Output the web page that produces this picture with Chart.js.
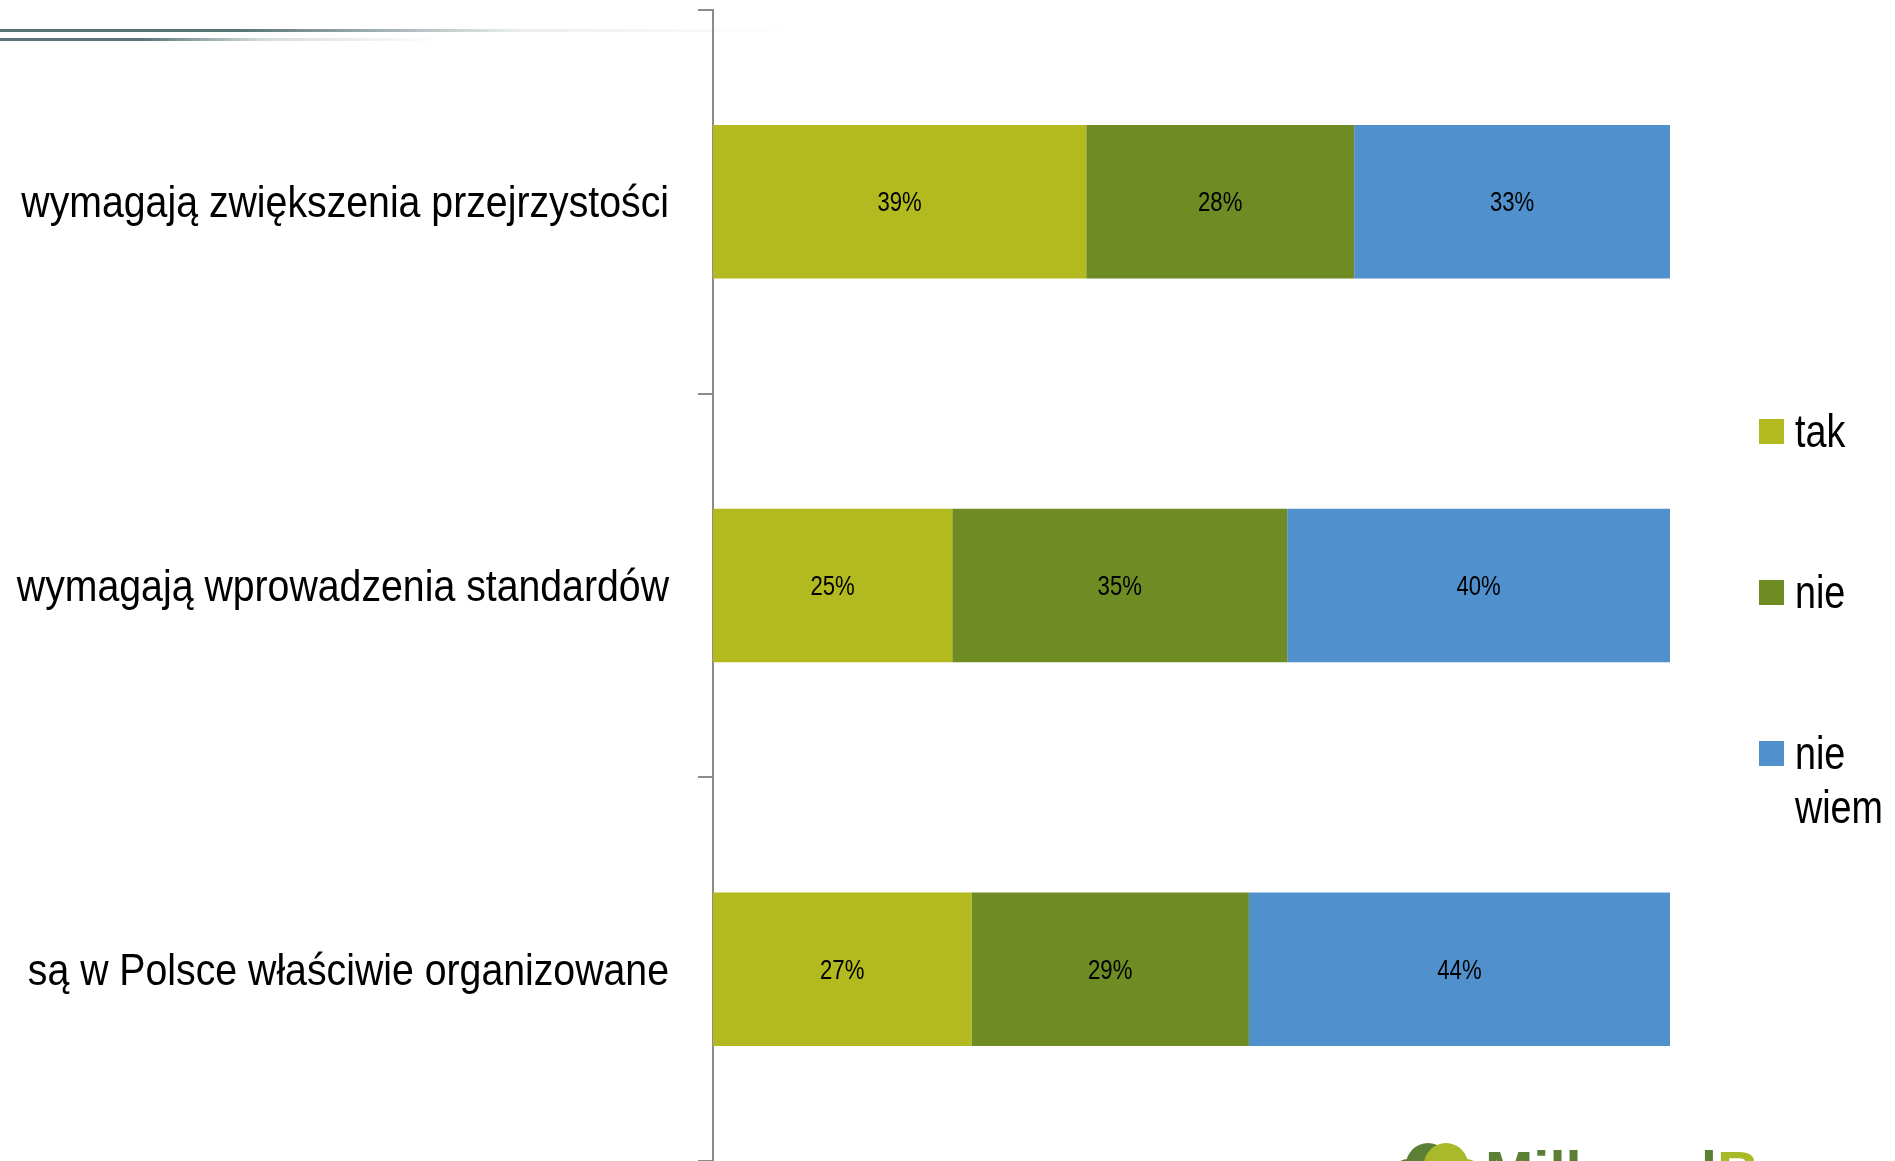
<!DOCTYPE html>
<html>
<head>
<meta charset="utf-8">
<script src="https://cdn.jsdelivr.net/npm/chart.js@4"></script>
<style>
  html, body { margin: 0; padding: 0; background: #fff; }
  #wrap { width: 1895px; height: 1161px; position: relative; }
</style>
</head>
<body>
<div id="wrap"><canvas id="wykres" width="1895" height="1161"></canvas></div>
<script>
const ctx = document.getElementById('wykres')

// brak Arial Narrow - zwężamy Liberation Sans w poziomie
const FONT = "'Liberation Sans', Arial, sans-serif"
const ZWEZENIE = 0.82

// dane
const kategorie = ['wymagają zwiększenia przejrzystości', 'wymagają wprowadzenia standardów', 'są w Polsce właściwie organizowane']
const tak = [39, 25, 27]
const nie = [28, 35, 29]
const nieWiem = [33, 40, 44]
const serie = [['tak'], ['nie'], ['nie', 'wiem']]
const kolory = ['#b2ba1f', '#6e8b24', '#4f90cd']

function waskiTekst(c, txt, x, y, align, sx) {
  c.save()
  c.translate(x, y)
  c.scale(sx || ZWEZENIE, 1)
  c.textAlign = align
  c.fillText(txt, 0, 0)
  c.restore()
}

// etykiety procentów na słupkach
const etykiety = {
  id: 'etykiety',
  afterDatasetsDraw(chart) {
    const c = chart.ctx
    c.save()
    c.font = '27px ' + FONT
    c.fillStyle = '#000'
    c.textBaseline = 'middle'
    chart.data.datasets.forEach((ds, i) => {
      chart.getDatasetMeta(i).data.forEach((bar, j) => {
        const x = (bar.x + bar.base) / 2
        waskiTekst(c, ds.data[j] + '%', x, bar.y + 2, 'center')
      })
    })
    c.restore()
  }
}

// opisy kategorii po lewej stronie osi
const opisy = {
  id: 'opisy',
  afterDraw(chart) {
    const c = chart.ctx
    const y = chart.scales.y
    c.save()
    c.font = '45px ' + FONT
    c.fillStyle = '#000'
    c.textBaseline = 'middle'
    chart.data.labels.forEach((lab, i) => {
      waskiTekst(c, lab, 669, y.getPixelForValue(i) + 3, 'right', 0.872)
    })
    c.restore()
  }
}

// legenda po prawej (z zawijaniem "nie wiem")
const legenda = {
  id: 'legenda',
  afterDraw(chart) {
    const c = chart.ctx
    c.save()
    c.font = '46px ' + FONT
    c.textBaseline = 'alphabetic'
    const ys = [431, 592, 753]
    chart.data.datasets.forEach((ds, i) => {
      c.fillStyle = ds.backgroundColor
      c.fillRect(1759, ys[i] - 12, 25, 25)
      c.fillStyle = '#000'
      serie[i].forEach((t, k) => waskiTekst(c, t, 1795, ys[i] + 16 + k * 54, 'left'))
    })
    c.restore()
  }
}

// ozdobne linie i logo
const ozdoby = {
  id: 'ozdoby',
  beforeDraw(chart) {
    const c = chart.ctx
    c.save()
    let g = c.createLinearGradient(0, 0, 800, 0)
    g.addColorStop(0, '#587377')
    g.addColorStop(0.3, '#587377')
    g.addColorStop(0.65, 'rgba(88,115,119,0.12)')
    g.addColorStop(1, 'rgba(88,115,119,0)')
    c.fillStyle = g
    c.fillRect(0, 29, 800, 3)
    g = c.createLinearGradient(0, 0, 440, 0)
    g.addColorStop(0, '#587377')
    g.addColorStop(0.32, '#587377')
    g.addColorStop(0.6, 'rgba(88,115,119,0.25)')
    g.addColorStop(1, 'rgba(88,115,119,0)')
    c.fillStyle = g
    c.fillRect(0, 38, 440, 3)
    c.restore()
  },
  afterDraw(chart) {
    const c = chart.ctx
    c.save()
    c.fillStyle = '#5b7f35'
    c.beginPath(); c.arc(1428, 1165, 22, 0, Math.PI * 2); c.fill()
    c.beginPath(); c.arc(1408, 1175, 16, 0, Math.PI * 2); c.fill()
    c.fillStyle = '#a8ba2a'
    c.beginPath(); c.arc(1446, 1165, 22, 0, Math.PI * 2); c.fill()
    c.beginPath(); c.arc(1466, 1175, 16, 0, Math.PI * 2); c.fill()
    c.fillStyle = '#fff'
    c.beginPath(); c.arc(1437, 1174, 7, 0, Math.PI * 2); c.fill()
    c.font = 'bold 58px "Liberation Sans", Arial, sans-serif'
    c.textBaseline = 'alphabetic'
    c.fillStyle = '#5b7f35'
    c.fillText('Millward', 1485, 1192)
    const w = c.measureText('Millward').width
    c.fillStyle = '#a8ba2a'
    c.fillText('Brown', 1485 + w, 1192)
    c.restore()
  }
}

const data = {
  labels: kategorie,
  datasets: [
    { label: 'tak', data: tak, backgroundColor: kolory[0] },
    { label: 'nie', data: nie, backgroundColor: kolory[1] },
    { label: 'nie wiem', data: nieWiem, backgroundColor: kolory[2] }
  ]
}

const config = {
  type: 'bar',
  data,
  options: {
    indexAxis: 'y',
    responsive: false,
    animation: false,
    layout: { padding: { left: 0, right: 225, top: 10, bottom: -8 } },
    datasets: { bar: { categoryPercentage: 1, barPercentage: 0.4, borderWidth: 0 } },
    scales: {
      x: { stacked: true, min: 0, max: 100, display: false },
      y: {
        stacked: true,
        offset: true,
        afterFit(scale) { scale.width = 713; scale.paddingTop = 0; scale.paddingBottom = 0 },
        border: { display: true, color: '#8c8c8c', width: 2 },
        grid: { offset: true, drawOnChartArea: false, drawTicks: true, tickLength: 15, color: '#8c8c8c', lineWidth: 2 },
        ticks: { display: false }
      }
    },
    plugins: { legend: { display: false }, tooltip: { enabled: false } }
  },
  plugins: [ozdoby, etykiety, opisy, legenda]
}

const graph = new Chart(ctx, config)
</script>
</body>
</html>
